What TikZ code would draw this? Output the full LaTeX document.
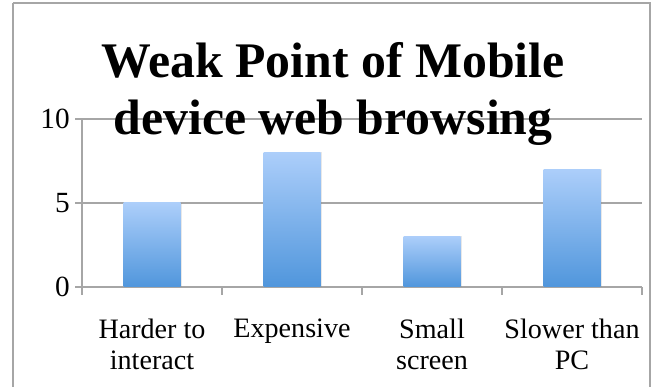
\documentclass[tikz,border=0pt]{standalone}
\usepackage{fontspec}
\setmainfont{Liberation Serif}
\usetikzlibrary{shadows}
\definecolor{barTop}{RGB}{172,206,250}
\definecolor{barBottom}{RGB}{80,150,220}
\definecolor{lineGray}{RGB}{166,166,166}
\begin{document}
\begin{tikzpicture}[x=0.03cm,y=-0.03cm,
	grid/.style={draw=lineGray,line width=1.6pt},
	bar/.style={top color=barTop,bottom color=barBottom,draw=none,minimum width=1.71cm,inner sep=0pt,anchor=south,
		drop shadow={opacity=0.18,shadow xshift=1.2pt,shadow yshift=0pt}},
	cat/.style={font=\fontsize{24}{26.5}\selectfont,align=center,anchor=north},
	ytick/.style={font=\fontsize{25}{27}\selectfont,anchor=east,inner sep=0pt}]

	\useasboundingbox (0,0) rectangle (653,386);
	\clip (0,0) rectangle (653,386);
	\draw[grid] (13,3) -- (650,3) -- (650,400);
	\draw[grid] (13,3) -- (13,400);

	% gridlines and axes
	\draw[grid] (75,119) -- (642,119);
	\draw[grid] (75,203) -- (642,203);
	\draw[grid] (75,287) -- (642,287);
	\draw[grid] (82,119) -- (82,295);
	\foreach \x in {222,362,502,642}
		\draw[grid] (\x,287) -- (\x,295);

	\node[ytick] (y10) at (70,119) {10};
	\node[ytick] (y5) at (70,203) {5};
	\node[ytick] (y0) at (70,287) {0};

	% bars
	\foreach \v/\name [count=\i] in {5/harder,8/expensive,3/small,7/slower}
		\node[bar,minimum height=\v*0.504cm] (\name) at ({82+140*(\i-0.5)},287) {};

	\node[cat] (lharder) at (152,315) {Harder to\\interact};
	\node[cat] (lexpensive) at (292,315) {Expensive};
	\node[cat] (lsmall) at (432,315) {Small\\screen};
	\node[cat] (lslower) at (572,315) {Slower than\\PC};

	\node[font=\fontsize{42.5}{48.5}\selectfont\bfseries,align=center] (title) at (333,94) {Weak Point of Mobile\\device web browsing};

\end{tikzpicture}
\end{document}
